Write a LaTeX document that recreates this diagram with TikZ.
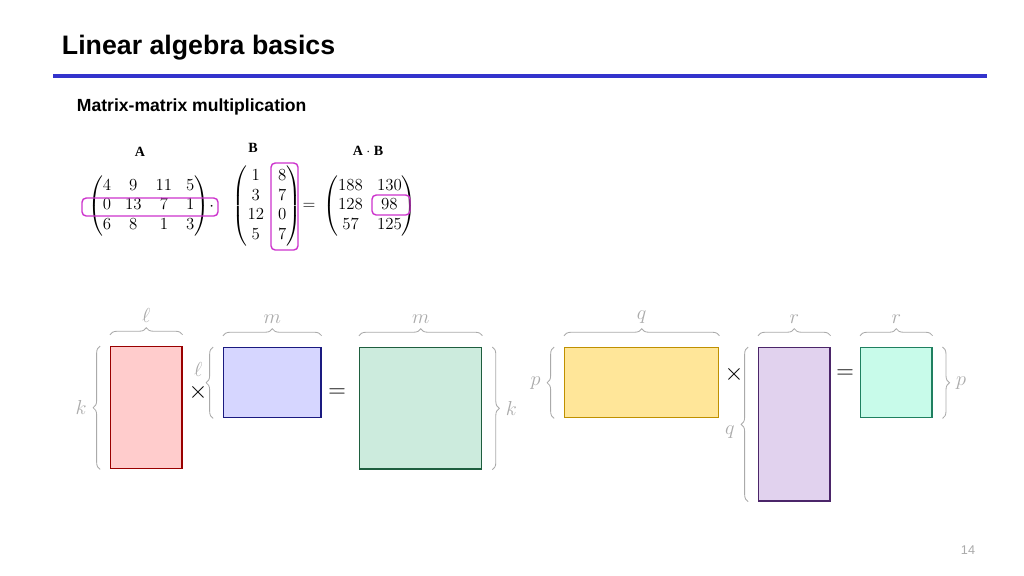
\documentclass[tikz,border=0pt]{standalone}
\usepackage{amsmath}
\usepackage{bm}
\usepackage{fontspec}
\setmainfont{Liberation Sans}
\newfontfamily\serifmat{Liberation Serif}
\usetikzlibrary{decorations.pathreplacing,positioning}
\definecolor{slideblue}{HTML}{3333CC}
\definecolor{hilite}{HTML}{CC33CC}
\definecolor{bracegray}{HTML}{AAAAAA}
\definecolor{matred}{HTML}{990000}
\definecolor{matblue}{HTML}{1A1A80}
\definecolor{matgreen}{HTML}{1E5E3E}
\definecolor{matyellow}{HTML}{BF9000}
\definecolor{matpurple}{HTML}{4B2569}
\definecolor{matcyan}{HTML}{1F8060}
\begin{document}
\begin{tikzpicture}[x=0.025cm, y=-0.025cm,
    mat/.style={rectangle, draw=#1, line width=1pt, inner sep=0pt, anchor=north west},
    brc/.style={decorate, decoration={brace, amplitude=5pt}, draw=bracegray, line width=0.6pt},
    dim/.style={text=bracegray, font=\Large},
    op/.style={font=\LARGE},
    hl/.style={draw=hilite, line width=1pt, rounded corners=3pt}]
            \useasboundingbox (0,0) rectangle (1024,575);

            % Header
            \node[anchor=west, font=\bfseries\fontsize{19}{22}\selectfont] (title) at (57,48) {Linear algebra basics};
            \draw[slideblue, line width=2.2pt] (53,76) -- (987,76);
            \node[anchor=west, font=\bfseries\fontsize{12.5}{15}\selectfont] (sub) at (72,107) {Matrix-matrix multiplication};

            % Numeric example
            \node[font=\serifmat\bfseries] (labA) at (140,152) {A};
            \node[font=\serifmat\bfseries] (labB) at (253,148) {B};
            \node[font=\serifmat\bfseries] (labAB) at (368,151) {A $\cdot$ B};
            \node[font=\large] (matA) at (151,206) {$\begin{pmatrix}4&9&11&5\\0&13&7&1\\6&8&1&3\end{pmatrix}\!\cdot$};
            \node[font=\large] (matB) at (267,206) {$\begin{pmatrix}1&8\\3&7\\12&0\\5&7\end{pmatrix}$};
            \node[font=\large] (eq1) at (309,206) {$=$};
            \node[font=\large] (matC) at (370,206) {$\begin{pmatrix}188&130\\128&98\\57&125\end{pmatrix}$};
            \draw[hl] (82,198) rectangle (218,216);
            \draw[hl] (271,163) rectangle (298,250);
            \draw[hl] (372,195) rectangle (410,215);

            % Left product: k x l times l x m
            \node[mat=matred, fill=red!20, minimum width=1.78cm, minimum height=3.05cm] (red) at (110,346) {};
            \node[mat=matblue, fill=blue!16, minimum width=2.43cm, minimum height=1.75cm] (blue) at (223,347) {};
            \node[mat=matgreen, fill={rgb,255:red,204;green,235;blue,221}, minimum width=3.05cm, minimum height=3.03cm] (green) at (359,347) {};
            \node[op] (times1) at (198,392) {$\times$};
            \node[op] (eq2) at (337,393) {$=$};
            \draw[brc] ([yshift=8pt]red.north west) -- ([yshift=8pt]red.north east)
                node[dim, midway, above=5pt] (l1) {$\ell$};
            \draw[brc] ([yshift=8pt]blue.north west) -- ([yshift=8pt]blue.north east)
                node[dim, midway, above=5pt] (m1) {$m$};
            \draw[brc] ([yshift=8pt]green.north west) -- ([yshift=8pt]green.north east)
                node[dim, midway, above=5pt] (m2) {$m$};
            \draw[brc] ([xshift=-7pt]red.south west) -- ([xshift=-7pt]red.north west)
                node[dim, midway, left=6pt] (k1) {$k$};
            \draw[brc] ([xshift=-7pt]blue.south west) -- ([xshift=-7pt]blue.north west)
                node[dim, pos=0.68, left=4pt] (l2) {$\ell$};
            \draw[brc] ([xshift=7pt]green.north east) -- ([xshift=7pt]green.south east)
                node[dim, midway, right=6pt] (k2) {$k$};

            % Right product: p x q times q x r
            \node[mat=matyellow, fill={rgb,255:red,255;green,230;blue,153}, minimum width=3.85cm, minimum height=1.75cm] (yellow) at (564,347) {};
            \node[mat=matpurple, fill={rgb,255:red,225;green,210;blue,238}, minimum width=1.78cm, minimum height=3.83cm] (purple) at (758,347) {};
            \node[mat=matcyan, fill={rgb,255:red,200;green,251;blue,234}, minimum width=1.78cm, minimum height=1.75cm] (cyan) at (860,347) {};
            \node[op] (times2) at (734,374) {$\times$};
            \node[op] (eq3) at (845,374) {$=$};
            \draw[brc] ([yshift=8pt]yellow.north west) -- ([yshift=8pt]yellow.north east)
                node[dim, midway, above=5pt] (q1) {$q$};
            \draw[brc] ([yshift=8pt]purple.north west) -- ([yshift=8pt]purple.north east)
                node[dim, midway, above=5pt] (r1) {$r$};
            \draw[brc] ([yshift=8pt]cyan.north west) -- ([yshift=8pt]cyan.north east)
                node[dim, midway, above=5pt] (r2) {$r$};
            \draw[brc] ([xshift=-7pt]yellow.south west) -- ([xshift=-7pt]yellow.north west)
                node[dim, midway, left=6pt] (p1) {$p$};
            \draw[brc] ([xshift=-7pt]purple.south west) -- ([xshift=-7pt]purple.north west)
                node[dim, pos=0.45, left=6pt] (q2) {$q$};
            \draw[brc] ([xshift=7pt]cyan.north east) -- ([xshift=7pt]cyan.south east)
                node[dim, midway, right=6pt] (p2) {$p$};

            % Page number
            \node[text=bracegray, font=\small] (page) at (968,550) {14};
\end{tikzpicture}
\end{document}
